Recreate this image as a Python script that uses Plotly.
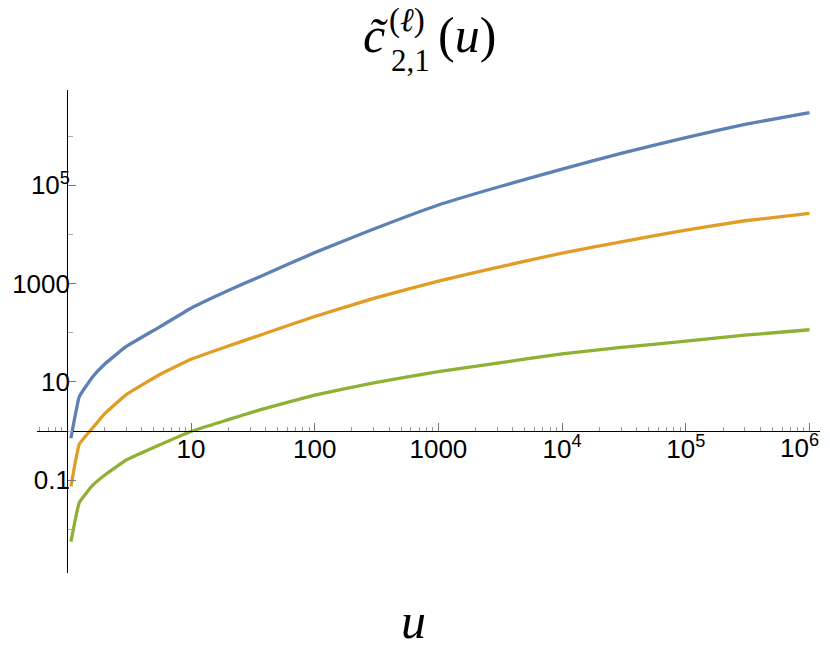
"""Log-log plot of the three c-tilde curves, drawn in the Mathematica style."""

import plotly.graph_objects as go

# values
u_values = [1.07, 1.25, 1.6, 2, 3, 5.6, 10, 20, 36, 100, 300, 1000, 3000,
            1e4, 3e4, 1e5, 3e5, 1e6]
c_blue = [0.71, 5.0, 12.6, 22.9, 52.5, 132, 316, 724, 1380, 4270, 12900,
          39800, 91200, 214000, 447000, 933000, 1.74e6, 3.02e6]
c_orange = [0.074, 0.54, 1.15, 2.24, 5.5, 14.1, 28.8, 53.7, 89.1, 214, 501,
            1120, 2140, 4170, 7080, 12300, 19000, 26900]
c_green = [0.0056, 0.035, 0.078, 0.126, 0.257, 0.525, 0.98, 1.70, 2.69, 5.37,
           9.55, 16.2, 24.0, 37.2, 50.1, 67.6, 89.1, 115]

x_tickvals = [10, 100, 1000, 1e4, 1e5, 1e6]
x_ticktext = ["10", "100", "1000", "10<sup>4</sup>", "10<sup>5</sup>", "10<sup>6</sup>"]
y_tickvals = [0.1, 10, 1000, 1e5]
y_ticktext = ["0.1", "10", "1000", "10<sup>5</sup>"]
y_minorvals = [0.01, 1, 100, 1e4, 1e6]

COLORS = ["#5E81B5", "#E19C24", "#8FB032"]

# figure geometry (pixels); the page body adds an 8px margin all round
WIDTH, HEIGHT = 814, 652
OFFSET = 8
PLOT_L, PLOT_T = 37, 90          # plot area corner in the reference
PLOT_W, PLOT_H = 783, 483
M_L, M_T = PLOT_L - OFFSET, PLOT_T - OFFSET
M_R = max(WIDTH - M_L - PLOT_W, 0)
M_B = HEIGHT - M_T - PLOT_H
X_RANGE = [-0.245, 6.085]
Y_RANGE = [-2.89, 6.94]


def px(x):
    """Reference pixel x -> paper coordinate."""
    return (x - PLOT_L) / PLOT_W


def py(y):
    """Reference pixel y -> paper coordinate."""
    return (PLOT_T + PLOT_H - y) / PLOT_H


fig = go.Figure()
for values, color in zip([c_blue, c_orange, c_green], COLORS):
    fig.add_trace(
        go.Scatter(
            x=u_values,
            y=values,
            mode="lines",
            line=dict(color=color, width=3.3, shape="spline", smoothing=0.3),
            showlegend=False,
        )
    )

x_minor = [m * 10 ** d for d in range(-1, 7) for m in range(2, 10)
           if 10 ** X_RANGE[0] <= m * 10 ** d <= 10 ** X_RANGE[1]]

tick_font = dict(family="Liberation Sans", size=26, color="black")

# the last x label would run past the page edge, so it is drawn as an
# annotation that ends at the edge instead of as a tick label
fig.update_xaxes(
    type="log",
    range=X_RANGE,
    anchor="free",
    position=(0 - Y_RANGE[0]) / (Y_RANGE[1] - Y_RANGE[0]),
    automargin=False,
    showline=True,
    linecolor="black",
    linewidth=1.3,
    showgrid=False,
    zeroline=False,
    ticks="inside",
    ticklen=8,
    tickwidth=1,
    tickcolor="#777777",
    tickvals=x_tickvals,
    ticktext=x_ticktext[:-1] + [""],
    tickfont=tick_font,
    ticklabelstandoff=-5,
    minor=dict(tickvals=x_minor, ticks="inside", ticklen=4, tickwidth=1,
               tickcolor="#999999", showgrid=False),
)
fig.add_annotation(
    text=x_ticktext[-1], xref="paper", yref="paper", x=px(821), y=py(446),
    xanchor="right", yanchor="middle", showarrow=False, font=tick_font,
)

fig.update_yaxes(
    type="log",
    range=Y_RANGE,
    anchor="free",
    position=(0 - X_RANGE[0]) / (X_RANGE[1] - X_RANGE[0]),
    automargin=False,
    showline=True,
    linecolor="black",
    linewidth=1.3,
    showgrid=False,
    zeroline=False,
    ticks="inside",
    ticklen=8,
    tickwidth=1,
    tickcolor="#777777",
    tickvals=y_tickvals,
    ticktext=y_ticktext,
    tickfont=tick_font,
    ticklabelstandoff=-8,
    minor=dict(tickvals=y_minorvals, ticks="inside", ticklen=5, tickwidth=1,
               tickcolor="#aaaaaa", showgrid=False),
)

serif = "Liberation Serif"
title_parts = [
    # text, size, anchor x, anchor side, centre y (reference pixels)
    ("<i>c\u0303</i>", 50, 390, "right", 35),
    ("(<i>\u2113</i>)", 33, 387, "left", 20),
    ("2,1", 31, 389, "left", 60),
    ("(<i>u</i>)", 50, 436, "left", 35),
]
for text, size, ax, side, cy in title_parts:
    fig.add_annotation(
        text=text, xref="paper", yref="paper", x=px(ax), y=py(cy),
        xanchor=side, yanchor="middle", showarrow=False,
        font=dict(family=serif, size=size, color="black"),
    )

# axis label u
fig.add_annotation(
    text="<i>u</i>", xref="paper", yref="paper", x=px(413), y=py(621),
    xanchor="center", yanchor="middle", showarrow=False,
    font=dict(family=serif, size=50, color="black"),
)

fig.update_layout(
    width=WIDTH,
    height=HEIGHT,
    margin=dict(l=M_L, r=M_R, t=M_T, b=M_B),
    plot_bgcolor="white",
    paper_bgcolor="white",
)

fig.write_html("out.html")
